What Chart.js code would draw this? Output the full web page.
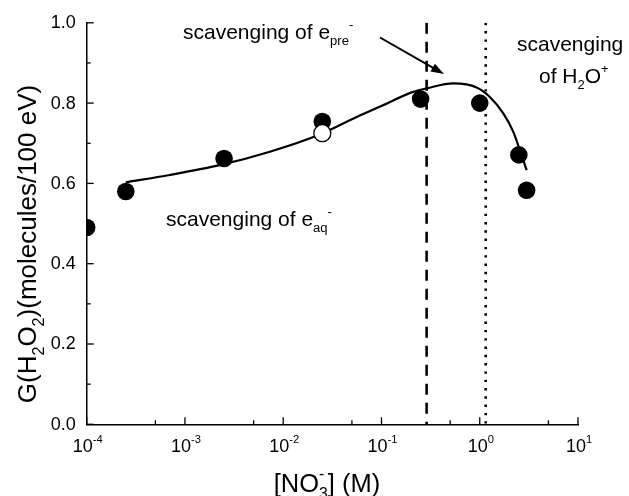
<!DOCTYPE html>
<html>
<head>
<meta charset="utf-8">
<script src="https://cdn.jsdelivr.net/npm/chart.js@4/dist/chart.umd.min.js"></script>
<style>
html,body{margin:0;padding:0;background:#fff;}
#wrap{width:629px;height:496px;}
</style>
</head>
<body>
<div id="wrap"><canvas id="c" width="629" height="496"></canvas></div>
<script>
// ---- data ----
const concentrations = [1e-4, 2.5e-4, 2.5e-3, 0.025, 0.25, 1.0, 2.5, 3.0];
const gValues        = [0.49, 0.58, 0.662, 0.754, 0.81, 0.80, 0.671, 0.583];
const openX = [0.025];
const openY = [0.725];
const curveX = [2.5e-4, 7.0e-4, 2.3e-3, 7.3e-3, 0.0236, 0.060, 0.096, 0.21, 0.29, 0.54, 0.93, 1.26, 1.73, 2.19, 2.56, 3.0];
const curveY = [0.603, 0.621, 0.646, 0.679, 0.722, 0.769, 0.791, 0.828, 0.837, 0.849, 0.839, 0.816, 0.775, 0.729, 0.683, 0.633];
const dashedX = 0.288;
const dottedX = 1.15;
const xTickExps = [-4, -3, -2, -1, 0, 1];
const yTickVals = [0.0, 0.2, 0.4, 0.6, 0.8, 1.0];
const yTickLabels = ['0.0', '0.2', '0.4', '0.6', '0.8', '1.0'];

const FONT = '"Liberation Sans", Arial, Helvetica, sans-serif';

function pts(xs, ys) { return xs.map((x, i) => ({x: x, y: ys[i]})); }

// rich text: segments {t, s:'sub'|'sup', stack:bool}
function richWidth(ctx, segs, size) {
  let w = 0, last = 0;
  segs.forEach(sg => {
    const fs = sg.s ? size * 0.62 : size;
    ctx.font = fs + 'px ' + FONT;
    const tw = ctx.measureText(sg.t).width;
    if (sg.stack) { w = w - last + Math.max(last, tw); }
    else { w += tw; last = tw; }
  });
  return w;
}
function drawRich(ctx, segs, x, y, size, align) {
  let w = richWidth(ctx, segs, size);
  let cx = align === 'center' ? x - w / 2 : (align === 'right' ? x - w : x);
  let prevStart = cx, prevW = 0;
  ctx.textBaseline = 'alphabetic';
  ctx.textAlign = 'left';
  segs.forEach(sg => {
    const fs = sg.s ? size * 0.62 : size;
    ctx.font = fs + 'px ' + FONT;
    let dy = 0;
    if (sg.s === 'sub') dy = size * 0.3;
    if (sg.s === 'sup') dy = -size * 0.48;
    const tw = ctx.measureText(sg.t).width;
    let sx = cx;
    if (sg.stack) { sx = prevStart; }
    ctx.fillText(sg.t, sx, y + dy);
    if (sg.stack) { cx = prevStart + Math.max(prevW, tw); }
    else { prevStart = cx; prevW = tw; cx += tw; }
  });
}

const leftClip = {
  id: 'leftClip',
  beforeDatasetDraw(chart, args) {
    if (args.index !== 1) return;
    const a = chart.chartArea;
    chart.ctx.save();
    chart.ctx.beginPath();
    chart.ctx.rect(a.left, 0, chart.width - a.left, chart.height);
    chart.ctx.clip();
  },
  afterDatasetDraw(chart, args) {
    if (args.index !== 1) return;
    chart.ctx.restore();
  }
};

const decor = {
  id: 'decor',
  afterDatasetsDraw(chart) {
    const ctx = chart.ctx;
    const xs = chart.scales.x, ys = chart.scales.y;
    const area = chart.chartArea;
    ctx.save();
    ctx.fillStyle = '#000';
    ctx.strokeStyle = '#000';
    ctx.lineWidth = 1.3;
    // x ticks (inward)
    xTickExps.forEach(e => {
      const px = xs.getPixelForValue(Math.pow(10, e));
      ctx.beginPath(); ctx.moveTo(px, area.bottom); ctx.lineTo(px, area.bottom - 7); ctx.stroke();
      if (e < 1) {
        const pm = xs.getPixelForValue(5 * Math.pow(10, e));
        ctx.beginPath(); ctx.moveTo(pm, area.bottom); ctx.lineTo(pm, area.bottom - 4); ctx.stroke();
      }
      drawRich(ctx, [{t: '10'}, {t: String(e), s: 'sup'}], px + 1, area.bottom + 27.5, 18, 'center');
    });
    // y ticks (inward)
    yTickVals.forEach((v, i) => {
      const py = ys.getPixelForValue(v);
      ctx.beginPath(); ctx.moveTo(area.left, py); ctx.lineTo(area.left + 7, py); ctx.stroke();
      if (i < yTickVals.length - 1) {
        const pm = ys.getPixelForValue(v + 0.1);
        ctx.beginPath(); ctx.moveTo(area.left, pm); ctx.lineTo(area.left + 4, pm); ctx.stroke();
      }
      ctx.font = '18px ' + FONT;
      ctx.textAlign = 'right';
      ctx.textBaseline = 'middle';
      ctx.fillText(yTickLabels[i], area.left - 11, py + 0.5);
    });
    // axis titles
    drawRich(ctx, [{t: '[NO'}, {t: '3', s: 'sub'}, {t: '-', s: 'sup', stack: true}, {t: '] (M)'}], 327, 491.5, 25.5, 'center');
    ctx.save();
    ctx.translate(36, 244);
    ctx.rotate(-Math.PI / 2);
    drawRich(ctx, [{t: 'G(H'}, {t: '2', s: 'sub'}, {t: 'O'}, {t: '2', s: 'sub'}, {t: ')(molecules/100 eV)'}], 0, 0, 26, 'center');
    ctx.restore();
    // annotations
    drawRich(ctx, [{t: 'scavenging of e'}, {t: 'pre', s: 'sub'}, {t: '-', s: 'sup'}], 183, 39, 21, 'left');
    drawRich(ctx, [{t: 'scavenging'}], 517, 51, 21, 'left');
    drawRich(ctx, [{t: 'of H'}, {t: '2', s: 'sub'}, {t: 'O'}, {t: '+', s: 'sup'}], 539, 83, 21, 'left');
    drawRich(ctx, [{t: 'scavenging of e'}, {t: 'aq', s: 'sub'}, {t: '-', s: 'sup'}], 166, 226, 21, 'left');
    // arrow
    const ax0 = 380, ay0 = 37.5, ax1 = 444, ay1 = 74;
    const ang = Math.atan2(ay1 - ay0, ax1 - ax0);
    ctx.lineWidth = 2;
    ctx.beginPath(); ctx.moveTo(ax0, ay0);
    ctx.lineTo(ax1 - 10 * Math.cos(ang), ay1 - 10 * Math.sin(ang)); ctx.stroke();
    ctx.beginPath();
    ctx.moveTo(ax1, ay1);
    ctx.lineTo(ax1 - 13 * Math.cos(ang) + 4.5 * Math.sin(ang), ay1 - 13 * Math.sin(ang) - 4.5 * Math.cos(ang));
    ctx.lineTo(ax1 - 13 * Math.cos(ang) - 4.5 * Math.sin(ang), ay1 - 13 * Math.sin(ang) + 4.5 * Math.cos(ang));
    ctx.closePath(); ctx.fill();
    ctx.restore();
  }
};

new Chart(document.getElementById('c'), {
  type: 'scatter',
  data: {
    datasets: [
      { data: pts(openX, openY), pointRadius: 8.5, pointBackgroundColor: '#fff', pointBorderColor: '#000', pointBorderWidth: 1.3, showLine: false, order: 0, clip: false },
      { data: pts(concentrations, gValues), pointRadius: 8.8, pointBackgroundColor: '#000', pointBorderColor: '#000', pointBorderWidth: 0, showLine: false, order: 1, clip: false },
      { data: pts(curveX, curveY), showLine: true, pointRadius: 0, borderColor: '#000', borderWidth: 2.2, cubicInterpolationMode: 'monotone', fill: false, order: 2, clip: false },
      { data: [{x: dashedX, y: 1.0}, {x: dashedX, y: 0}], showLine: true, pointRadius: 0, borderColor: '#000', borderWidth: 2.6, borderDash: [11, 8], order: 3 },
      { data: [{x: dottedX, y: 1.0}, {x: dottedX, y: 0}], showLine: true, pointRadius: 0, borderColor: '#000', borderWidth: 2.6, borderDash: [2.4, 5.9], order: 3 }
    ]
  },
  options: {
    responsive: false,
    animation: false,
    devicePixelRatio: 1,
    layout: { padding: { left: 86.7, right: 51, top: 22.8, bottom: 71.7 } },
    plugins: { legend: { display: false }, tooltip: { enabled: false } },
    scales: {
      x: {
        type: 'logarithmic', min: 1e-4, max: 10,
        ticks: { display: false },
        grid: { display: false, drawTicks: false },
        border: { display: true, color: '#000', width: 1.5 },
        title: { display: false }
      },
      y: {
        type: 'linear', min: 0, max: 1.0,
        ticks: { display: false },
        grid: { display: false, drawTicks: false },
        border: { display: true, color: '#000', width: 1.5 },
        title: { display: false }
      }
    }
  },
  plugins: [leftClip, decor]
});
</script>
</body>
</html>
